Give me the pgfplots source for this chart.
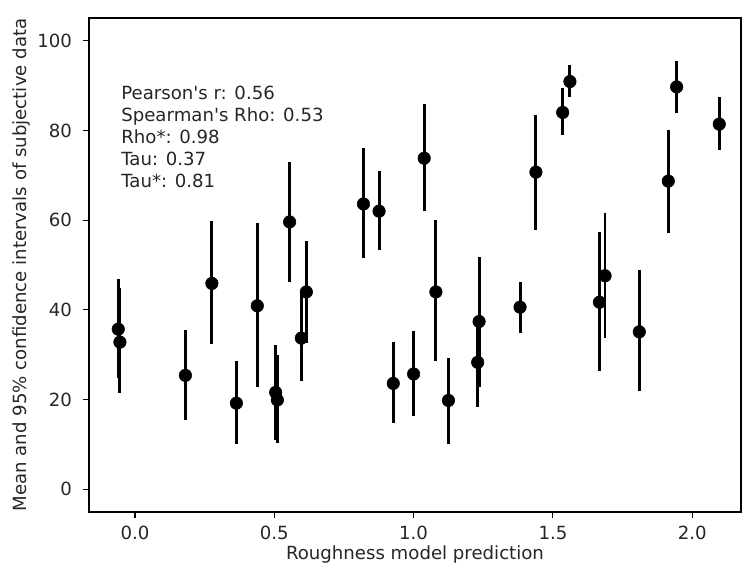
\documentclass[border=0pt]{standalone}
\usepackage{pgfplots}
\pgfplotsset{compat=1.18}
\usepackage{pgfplotstable}
\usepackage{fontspec}
\setmainfont{DejaVu Sans}[Ligatures=TeXOff]
\pgfplotstableread{
x y lo hi
-0.060 35.7 24.7 46.8
-0.054 32.8 21.4 44.8
0.181 25.4 15.4 35.5
0.276 45.9 32.4 59.7
0.364 19.2 10.1 28.7
0.439 40.9 22.7 59.4
0.505 21.6 10.9 32.2
0.511 19.9 10.4 29.9
0.555 59.6 46.1 73.0
0.597 33.7 24.1 43.7
0.615 44.0 32.7 55.3
0.820 63.6 51.6 76.1
0.876 62.0 53.3 71.0
0.927 23.6 14.8 32.9
1.000 25.7 16.4 35.3
1.038 73.8 62.1 85.9
1.080 44.0 28.7 60.1
1.125 19.8 10.1 29.3
1.230 28.3 18.4 38.2
1.235 37.4 22.9 51.7
1.382 40.6 34.8 46.3
1.439 70.7 57.7 83.5
1.535 84.0 78.9 89.5
1.561 90.9 87.4 94.5
1.667 41.7 26.4 57.3
1.687 47.6 33.7 61.7
1.810 35.1 22.0 48.9
1.914 68.7 57.1 80.2
1.944 89.7 83.9 95.4
2.097 81.4 75.6 87.4
}\datatable
\begin{document}
\begin{tikzpicture}
\begin{axis}[
  scale only axis,
  width=489pt, height=370.5pt,
  xmin=-0.165, xmax=2.175,
  ymin=-5.06, ymax=105.06,
  xtick={0,0.5,1,1.5,2},
  ytick={0,20,40,60,80,100},
  /pgf/number format/assume math mode=true,
  tick align=outside,
  major tick length=4.2pt,
  tick style={black, line width=0.8pt},
  axis line style={black, line width=0.8pt},
  xtick pos=bottom, ytick pos=left,
  tick label style={font=\fontsize{13.6}{16}\selectfont, text=black!85},
  xticklabel style={yshift=-3pt, /pgf/number format/.cd, fixed, fixed zerofill, precision=1},
  yticklabel style={xshift=-5pt},
  label style={font=\fontsize{13.6}{16}\selectfont, text=black!85},
  xlabel={Roughness model prediction},
  ylabel={Mean and 95\% confidence intervals of subjective data},
  xlabel style={at={(axis description cs:0.5,0)}, anchor=center, yshift=-32pt},
  ylabel style={at={(axis description cs:-0.1028,0.5)}, anchor=center},
  clip=false,
]
\addplot[only marks, mark=*, mark size=4.7pt, black,
  error bars/.cd, y dir=both, y explicit, error mark=none,
  error bar style={line width=2.2pt, black}]
  table[x=x, y=y,
        y error plus expr=\thisrow{hi}-\thisrow{y},
        y error minus expr=\thisrow{y}-\thisrow{lo}] {\datatable};
\node[anchor=north west, inner sep=0pt, align=left,
      font=\fontsize{13.6}{16.4}\selectfont, text=black!85]
  at (axis cs:-0.050,89.9)
  {Pearson's r: 0.56\\Spearman's Rho: 0.53\\Rho*: 0.98\\Tau: 0.37\\Tau*: 0.81};
\end{axis}
\pgfresetboundingbox
\path[use as bounding box] (-66.75pt,-39.75pt) rectangle (489.75pt,384pt);
\end{tikzpicture}
\end{document}
